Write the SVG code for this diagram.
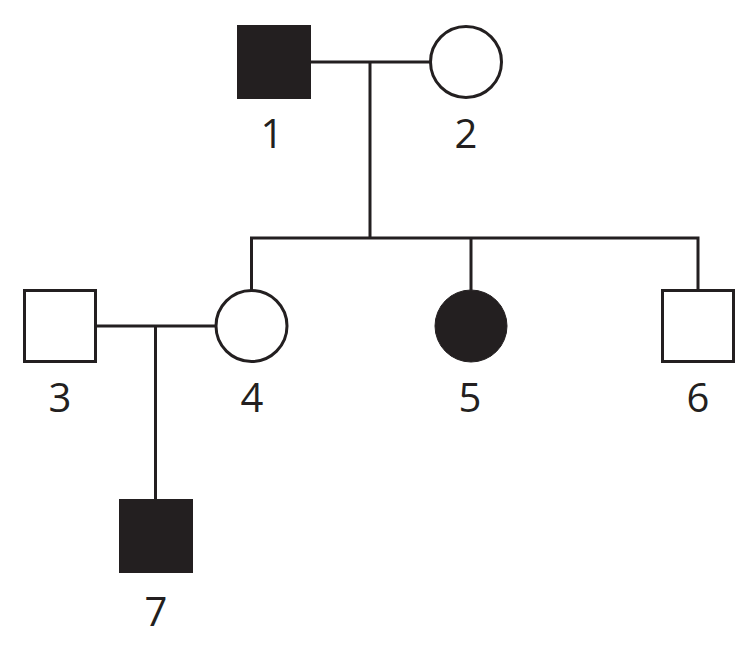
<svg xmlns="http://www.w3.org/2000/svg" width="754" height="646" viewBox="0 0 754 646">
<style>
.ln{stroke:#231f20;stroke-width:3;fill:none}
.open{fill:#fff;stroke:#231f20;stroke-width:3}
.aff{fill:#231f20;stroke:#231f20;stroke-width:1}
.lbl{font-family:"Open Sans","Liberation Sans",sans-serif;font-size:40px;fill:#231f20;text-anchor:middle}
</style>
<rect width="754" height="646" fill="#fff"/>
<g id="connectors">
<line class="ln" x1="311" y1="62" x2="430" y2="62"/>
<line class="ln" x1="370" y1="62" x2="370" y2="238"/>
<polyline class="ln" points="251.5,290 251.5,238 698,238 698,290"/>
<line class="ln" x1="471" y1="238" x2="471" y2="290"/>
<line class="ln" x1="96" y1="326" x2="216" y2="326"/>
<line class="ln" x1="155.5" y1="326" x2="155.5" y2="499"/>
</g>
<g id="n1"><rect class="aff" x="237.5" y="25.5" width="73" height="73"/><text class="lbl" x="272" y="148">1</text></g>
<g id="n2"><circle class="open" cx="466" cy="62" r="35.5"/><text class="lbl" x="466" y="148">2</text></g>
<g id="n3"><rect class="open" x="24.5" y="290.5" width="71" height="71"/><text class="lbl" x="60" y="412">3</text></g>
<g id="n4"><circle class="open" cx="251.5" cy="326" r="35.5"/><text class="lbl" x="252" y="412">4</text></g>
<g id="n5"><circle class="aff" cx="471" cy="326" r="36"/><text class="lbl" x="470" y="412">5</text></g>
<g id="n6"><rect class="open" x="662.5" y="290.5" width="71" height="71"/><text class="lbl" x="698" y="412">6</text></g>
<g id="n7"><rect class="aff" x="119.5" y="499.5" width="73" height="73"/><text class="lbl" x="156" y="626">7</text></g>
</svg>
